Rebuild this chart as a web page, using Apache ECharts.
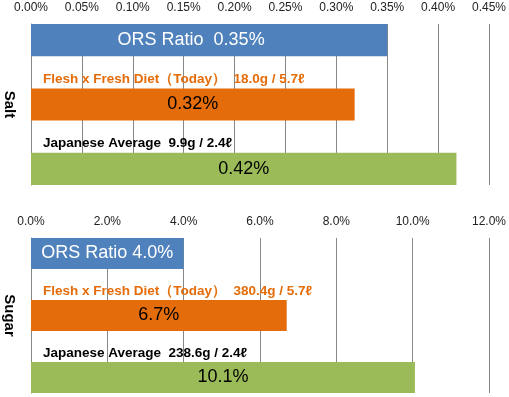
<!DOCTYPE html>
<html>
<head>
<meta charset="utf-8">
<script src="https://cdn.jsdelivr.net/npm/echarts@6/dist/echarts.min.js"></script>
<style>
html, body { margin: 0; padding: 0; background: #fff; }
#chart { width: 509px; height: 397px; }
</style>
</head>
<body>
<div id="chart"></div>
<script>
// data
var panels = ['Salt', 'Sugar'];
var barNames = ['ORS Ratio', 'Flesh x Fresh Diet（Today）', 'Japanese Average'];
var saltValues = [0.35, 0.318, 0.418];
var sugarValues = [4.0, 6.7, 10.06];
var saltAmounts = ['', '18.0g / 5.7ℓ', '9.9g / 2.4ℓ'];
var sugarAmounts = ['', '380.4g / 5.7ℓ', '238.6g / 2.4ℓ'];
var saltTicks = ['0.00%', '0.05%', '0.10%', '0.15%', '0.20%', '0.25%', '0.30%', '0.35%', '0.40%', '0.45%'];
var sugarTicks = ['0.0%', '2.0%', '4.0%', '6.0%', '8.0%', '10.0%', '12.0%'];

var barColors = ['#4F81BD', '#E46C0A', '#9BBB59'];
var valueColors = ['#fff', '#000', '#000'];
var noteColors = ['#E46C0A', '#000'];
var font = 'Liberation Sans';

function buildSeries(g, values, amounts, decimals, sep) {
    var res = [];
    for (var i = 0; i < values.length; i++) {
        // 有色的柱
        res.push({
            type: 'bar',
            xAxisIndex: g,
            yAxisIndex: g,
            data: [values[i]],
            barGap: '0%',
            barCategoryGap: '0%',
            silent: true,
            itemStyle: {color: barColors[i]},
            label: {
                show: true,
                position: 'inside',
                offset: (i === 0 && g === 0) ? [-18, 0] : [0, 0],
                fontFamily: font,
                fontSize: 18,
                color: valueColors[i],
                formatter: (function (idx) {
                    return function (p) {
                        var txt = p.value.toFixed(decimals) + '%';
                        return idx === 0 ? barNames[0] + sep + txt : txt;
                    };
                })(i)
            }
        });
        // 说明文字所在的空白行
        if (i < values.length - 1) {
            res.push({
                type: 'bar',
                xAxisIndex: g,
                yAxisIndex: g,
                data: [values[i + 1]],
                barGap: '0%',
                barCategoryGap: '0%',
                silent: true,
                itemStyle: {color: 'rgba(0,0,0,0)'},
                label: {
                    show: true,
                    position: 'insideLeft',
                    distance: 12,
                    offset: [0, 7],
                    fontFamily: font,
                    fontWeight: 'bold',
                    fontSize: 13.5,
                    color: noteColors[i],
                    formatter: barNames[i + 1] + '  ' + amounts[i + 1]
                }
            });
        }
    }
    return res;
}

function xAxisOf(g, max, interval, ticks) {
    return {
        gridIndex: g,
        type: 'value',
        position: 'top',
        min: 0,
        max: max,
        interval: interval,
        axisLine: {show: false},
        axisTick: {show: false},
        splitLine: {lineStyle: {color: '#878787'}},
        axisLabel: {
            margin: 10,
            fontFamily: font,
            fontSize: 12,
            color: '#222',
            formatter: function (v) {
                return ticks[Math.round(v / interval)];
            }
        }
    };
}

function yAxisOf(g) {
    return {
        gridIndex: g,
        type: 'category',
        data: [panels[g]],
        axisLine: {lineStyle: {color: '#878787'}},
        axisTick: {length: 5, lineStyle: {color: '#878787'}},
        axisLabel: {
            rotate: -90,
            margin: 14,
            fontFamily: font,
            fontWeight: 'bold',
            fontSize: 15,
            color: '#000'
        }
    };
}

var myChart = echarts.init(document.getElementById('chart'));
myChart.setOption({
    backgroundColor: '#fff',
    animation: false,
    grid: [
        {left: 31, right: 20, top: 24, height: 161},
        {left: 31, right: 20, top: 238, height: 155}
    ],
    xAxis: [
        xAxisOf(0, 0.45, 0.05, saltTicks),
        xAxisOf(1, 12, 2, sugarTicks)
    ],
    yAxis: [yAxisOf(0), yAxisOf(1)],
    series: buildSeries(0, saltValues, saltAmounts, 2, '  ')
        .concat(buildSeries(1, sugarValues, sugarAmounts, 1, ' '))
});
</script>
</body>
</html>
